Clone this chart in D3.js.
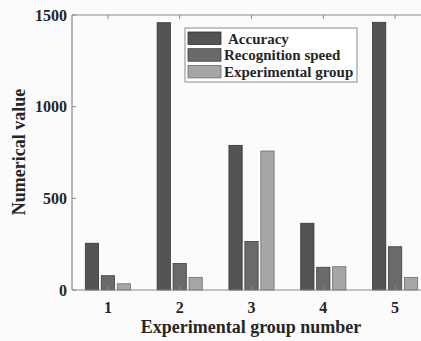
<!DOCTYPE html>
<html>
<head>
<meta charset="utf-8">
<script src="https://cdn.jsdelivr.net/npm/d3@7"></script>
<style>
  body { margin: 0; background: #fbfbfb; }
  svg { display: block; font-family: "Liberation Serif", "DejaVu Serif", serif; font-weight: bold; }
</style>
</head>
<body>
<svg id="chart" width="421" height="341"></svg>
<script>
const groups = [1, 2, 3, 4, 5];
const seriesNames = ["Accuracy", "Recognition speed", "Experimental group"];
const accuracy = [255, 1458, 789, 364, 1460];
const recognitionSpeed = [78, 145, 265, 124, 236];
const experimentalGroup = [34, 69, 758, 127, 69];
const yTicks = [0, 500, 1000, 1500];

const colors = ["#545454", "#6a6a6a", "#a6a6a6"];
const edges = ["#333", "#3f3f3f", "#6e6e6e"];

const svg = d3.select("#chart");
const margin = {top: 15, left: 72, bottom: 51};
const W = 421, H = 341;
const bottom = H - margin.bottom;

// MATLAB-like x limits, the right edge is cut off by the picture
const x = d3.scaleLinear().domain([0.5, 5.5]).range([margin.left, 431]);
const y = d3.scaleLinear().domain([0, 1500]).range([bottom, margin.top]);

const unit = x(1) - x(0);
const x1 = d3.scaleBand()
  .domain(d3.range(3))
  .range([-unit / 3, unit / 3])
  .paddingInner(0.17)
  .paddingOuter(0.085);

const rows = groups.map((g, i) => ({g: g, values: [accuracy[i], recognitionSpeed[i], experimentalGroup[i]]}));

const barG = svg.append("g");
barG.selectAll("g")
  .data(rows)
  .enter().append("g")
  .attr("transform", d => "translate(" + x(d.g) + ",0)")
  .selectAll("rect")
  .data(d => d.values.map((v, k) => ({k: k, v: v})))
  .enter().append("rect")
  .attr("x", d => x1(d.k))
  .attr("width", x1.bandwidth())
  .attr("y", d => y(d.v))
  .attr("height", d => bottom - y(d.v))
  .attr("fill", d => colors[d.k])
  .attr("stroke", d => edges[d.k])
  .attr("stroke-width", 0.8);

// axes box
const axisColor = "#8a8a8a";
svg.append("line").attr("x1", margin.left).attr("x2", W).attr("y1", bottom).attr("y2", bottom)
  .attr("stroke", axisColor).attr("stroke-width", 1.2);
svg.append("line").attr("x1", margin.left).attr("x2", W).attr("y1", margin.top).attr("y2", margin.top)
  .attr("stroke", axisColor).attr("stroke-width", 1.2);
svg.append("line").attr("x1", margin.left).attr("x2", margin.left).attr("y1", margin.top).attr("y2", bottom)
  .attr("stroke", axisColor).attr("stroke-width", 1.2);

// inward ticks
svg.append("g").selectAll("line").data(yTicks).enter().append("line")
  .attr("x1", margin.left).attr("x2", margin.left + 4)
  .attr("y1", d => y(d)).attr("y2", d => y(d))
  .attr("stroke", axisColor);
svg.append("g").selectAll("line").data(groups).enter().append("line")
  .attr("x1", d => x(d)).attr("x2", d => x(d))
  .attr("y1", bottom).attr("y2", bottom - 4)
  .attr("stroke", axisColor);
svg.append("g").selectAll("line").data(groups).enter().append("line")
  .attr("x1", d => x(d)).attr("x2", d => x(d))
  .attr("y1", margin.top).attr("y2", margin.top + 4)
  .attr("stroke", axisColor);

// tick labels
svg.append("g").selectAll("text").data(yTicks).enter().append("text")
  .attr("x", margin.left - 5)
  .attr("y", d => y(d))
  .attr("dy", "0.35em")
  .attr("text-anchor", "end")
  .attr("font-size", 16)
  .attr("fill", "#262626")
  .text(d => d);
svg.append("g").selectAll("text").data(groups).enter().append("text")
  .attr("x", d => x(d))
  .attr("y", bottom + 17)
  .attr("dy", "0.35em")
  .attr("text-anchor", "middle")
  .attr("font-size", 16)
  .attr("fill", "#262626")
  .text(d => d);

// axis titles
svg.append("text")
  .attr("x", 251).attr("y", 333)
  .attr("text-anchor", "middle")
  .attr("font-size", 18)
  .attr("fill", "#262626")
  .text("Experimental group number");
svg.append("text")
  .attr("transform", "translate(25,152) rotate(-90)")
  .attr("text-anchor", "middle")
  .attr("font-size", 18)
  .attr("fill", "#262626")
  .text("Numerical value");

// legend
const legend = svg.append("g").attr("transform", "translate(185,28)");
legend.append("rect")
  .attr("width", 172).attr("height", 54)
  .attr("fill", "#fff").attr("stroke", "#8a8a8a");
const items = legend.selectAll("g.item").data(seriesNames).enter().append("g")
  .attr("class", "item")
  .attr("transform", (d, i) => "translate(0," + (4 + i * 16.7) + ")");
items.append("rect")
  .attr("x", 3).attr("width", 33).attr("height", 12.5)
  .attr("fill", (d, i) => colors[i])
  .attr("stroke", (d, i) => edges[i]).attr("stroke-width", 0.8);
items.append("text")
  .attr("x", (d, i) => i === 0 ? 43 : 39)
  .attr("y", 6.5)
  .attr("dy", "0.35em")
  .attr("font-size", 15)
  .attr("fill", "#262626")
  .text(d => d);
</script>
</body>
</html>
